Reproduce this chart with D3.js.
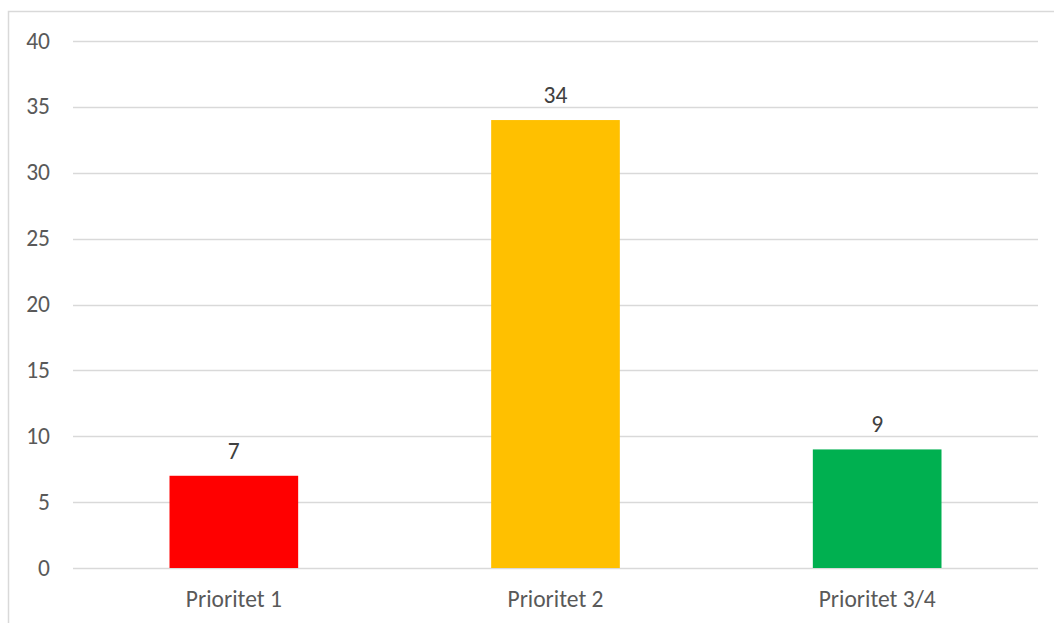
<!DOCTYPE html>
<html><head><meta charset="utf-8">
<script src="https://cdn.jsdelivr.net/npm/d3@7"></script>
<style>body{margin:0;background:#fff}svg{display:block}text{font-family:Carlito,Lato,"Open Sans",sans-serif}</style>
</head><body><svg id="c" width="1054" height="623"></svg>
<script>
const categories = ["Prioritet 1", "Prioritet 2", "Prioritet 3/4"];
const values = [7, 34, 9];
const colors = ["#FF0000", "#FFC000", "#00B050"];
const yTicks = [0, 5, 10, 15, 20, 25, 30, 35, 40];

(function () {
const svg = d3.select("#c");
svg.append("rect").attr("x", 8.5).attr("y", 11.5).attr("width", 1100).attr("height", 700)
  .attr("fill", "none").attr("stroke", "#d9d9d9").attr("stroke-width", 1.5);

const pLeft = 73, pRight = 1038, pTop = 41, pBottom = 568;
const fs = 23.5;
const x = d3.scaleBand().domain(categories).range([pLeft, pRight]).paddingInner(0.6).paddingOuter(0.3);
const y = d3.scaleLinear().domain([0, 40]).range([pBottom, pTop]);

const g = svg.append("g");
g.selectAll("line.grid").data(yTicks).join("line").attr("class", "grid")
  .attr("x1", pLeft).attr("x2", pRight)
  .attr("y1", d => Math.round(y(d)) + 0.5).attr("y2", d => Math.round(y(d)) + 0.5)
  .attr("stroke", "#d9d9d9").attr("stroke-width", 1.3);

g.selectAll("text.yt").data(yTicks).join("text").attr("class", "yt")
  .attr("x", 50).attr("y", d => y(d) + 7.5).attr("text-anchor", "end")
  .attr("font-size", fs).attr("fill", "#595959").text(d => d);

g.selectAll("rect.bar").data(values).join("rect").attr("class", "bar")
  .attr("x", (d, i) => x(categories[i])).attr("width", x.bandwidth())
  .attr("y", d => y(d)).attr("height", d => y(0) - y(d))
  .attr("fill", (d, i) => colors[i]);

g.selectAll("text.lab").data(values).join("text").attr("class", "lab")
  .attr("x", (d, i) => x(categories[i]) + x.bandwidth() / 2).attr("y", d => y(d) - 17)
  .attr("text-anchor", "middle").attr("font-size", fs).attr("fill", "#404040").text(d => d);

g.selectAll("text.cat").data(categories).join("text").attr("class", "cat")
  .attr("x", d => x(d) + x.bandwidth() / 2).attr("y", 607)
  .attr("text-anchor", "middle").attr("font-size", fs).attr("fill", "#595959").text(d => d);
})();
</script></body></html>
